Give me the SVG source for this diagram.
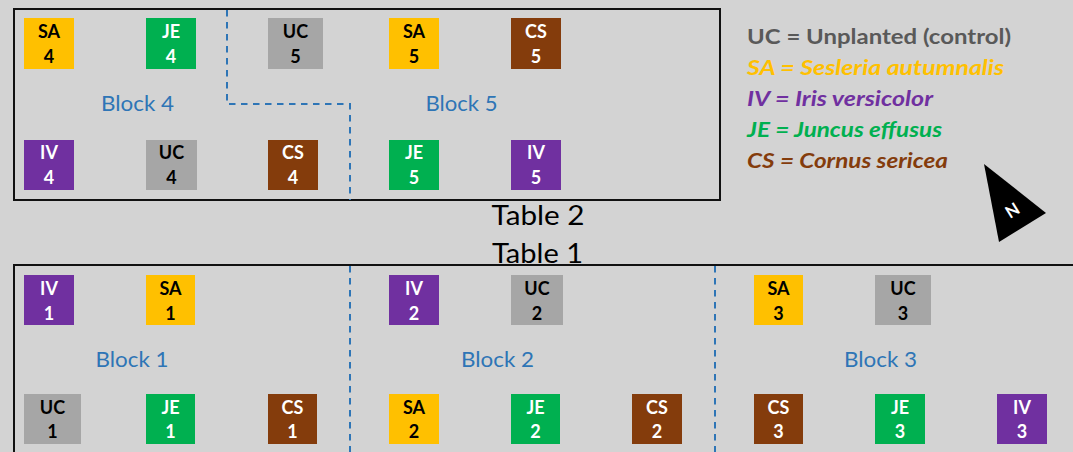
<svg xmlns="http://www.w3.org/2000/svg" width="1073" height="452" viewBox="0 0 1073 452">
<style>
  .bg{fill:#d3d3d3}
  .table{fill:none;stroke:#111;stroke-width:2}
  .div{fill:none;stroke:#2e75b6;stroke-width:2;stroke-dasharray:6.5 5.5}
  .lbl{font-family:Lato,"Open Sans",sans-serif;font-weight:bold;font-size:18px;text-anchor:middle}
  .dk{fill:#000}
  .lt{fill:#fff}
  .SA{fill:#ffc000}
  .JE{fill:#00b050}
  .UC{fill:#a6a6a6}
  .CS{fill:#843c0c}
  .IV{fill:#7030a0}
  .block{font-family:Lato,"Open Sans",sans-serif;font-size:22px;fill:#2e75b6;text-anchor:middle}
  .tname{font-family:Lato,"Open Sans",sans-serif;font-size:27px;fill:#000;text-anchor:middle}
  .leg{font-family:Lato,"Open Sans",sans-serif;font-size:21px;font-weight:bold}
</style>
<rect class="bg" x="0" y="0" width="1073" height="452"/>

<g id="table2">
  <rect class="table" x="14" y="9" width="706" height="191"/>
  <text class="tname" x="538" y="224.5" textLength="93" lengthAdjust="spacingAndGlyphs">Table 2</text>
</g>
<g id="table1">
  <rect class="table" x="14" y="265" width="1070" height="200"/>
  <text class="tname" x="537.5" y="263" textLength="91" lengthAdjust="spacingAndGlyphs">Table 1</text>
</g>

<g id="connectors">
  <path class="div" d="M227,10 V104 H350 V200"/>
  <path class="div" d="M350,266 V452"/>
  <path class="div" d="M715,266 V452"/>
</g>

<g id="block-labels">
  <text class="block" x="137.5" y="111" textLength="73" lengthAdjust="spacingAndGlyphs">Block 4</text>
  <text class="block" x="461.5" y="111" textLength="72" lengthAdjust="spacingAndGlyphs">Block 5</text>
  <text class="block" x="132" y="366.5" textLength="73" lengthAdjust="spacingAndGlyphs">Block 1</text>
  <text class="block" x="497.5" y="366.5" textLength="73" lengthAdjust="spacingAndGlyphs">Block 2</text>
  <text class="block" x="880.5" y="366.5" textLength="73" lengthAdjust="spacingAndGlyphs">Block 3</text>
</g>

<!-- Table 2 plots -->
<g id="SA4"><rect class="SA" x="24" y="18" width="50" height="51"/><text class="lbl dk" x="49" y="37.5">SA</text><text class="lbl dk" x="49" y="62.5">4</text></g>
<g id="JE4"><rect class="JE" x="146" y="18" width="50" height="51"/><text class="lbl lt" x="171" y="37.5">JE</text><text class="lbl lt" x="171" y="62.5">4</text></g>
<g id="UC5"><rect class="UC" x="268" y="18" width="55" height="51"/><text class="lbl dk" x="295.5" y="37.5">UC</text><text class="lbl dk" x="295.5" y="62.5">5</text></g>
<g id="SA5"><rect class="SA" x="389" y="18" width="50" height="51"/><text class="lbl dk" x="414" y="37.5">SA</text><text class="lbl dk" x="414" y="62.5">5</text></g>
<g id="CS5"><rect class="CS" x="511" y="18" width="50" height="51"/><text class="lbl lt" x="536" y="37.5">CS</text><text class="lbl lt" x="536" y="62.5">5</text></g>

<g id="IV4"><rect class="IV" x="24" y="140" width="50" height="50"/><text class="lbl lt" x="49" y="159">IV</text><text class="lbl lt" x="49" y="183.5">4</text></g>
<g id="UC4"><rect class="UC" x="146" y="140" width="51" height="50"/><text class="lbl dk" x="171.5" y="159">UC</text><text class="lbl dk" x="171.5" y="183.5">4</text></g>
<g id="CS4"><rect class="CS" x="268" y="140" width="50" height="50"/><text class="lbl lt" x="293" y="159">CS</text><text class="lbl lt" x="293" y="183.5">4</text></g>
<g id="JE5"><rect class="JE" x="389" y="140" width="50" height="50"/><text class="lbl lt" x="414" y="159">JE</text><text class="lbl lt" x="414" y="183.5">5</text></g>
<g id="IV5"><rect class="IV" x="511" y="140" width="50" height="50"/><text class="lbl lt" x="536" y="159">IV</text><text class="lbl lt" x="536" y="183.5">5</text></g>

<!-- Table 1 plots -->
<g id="IV1"><rect class="IV" x="24" y="275" width="50" height="50"/><text class="lbl lt" x="49" y="295">IV</text><text class="lbl lt" x="49" y="319.5">1</text></g>
<g id="SA1"><rect class="SA" x="146" y="275" width="49" height="50"/><text class="lbl dk" x="170.5" y="295">SA</text><text class="lbl dk" x="170.5" y="319.5">1</text></g>
<g id="IV2"><rect class="IV" x="389" y="275" width="50" height="50"/><text class="lbl lt" x="414" y="295">IV</text><text class="lbl lt" x="414" y="319.5">2</text></g>
<g id="UC2"><rect class="UC" x="511" y="275" width="52" height="50"/><text class="lbl dk" x="537" y="295">UC</text><text class="lbl dk" x="537" y="319.5">2</text></g>
<g id="SA3"><rect class="SA" x="754" y="275" width="49" height="50"/><text class="lbl dk" x="778.5" y="295">SA</text><text class="lbl dk" x="778.5" y="319.5">3</text></g>
<g id="UC3"><rect class="UC" x="875" y="275" width="56" height="50"/><text class="lbl dk" x="903" y="295">UC</text><text class="lbl dk" x="903" y="319.5">3</text></g>

<g id="UC1"><rect class="UC" x="24" y="394" width="57" height="50"/><text class="lbl dk" x="52.5" y="413.5">UC</text><text class="lbl dk" x="52.5" y="438">1</text></g>
<g id="JE1"><rect class="JE" x="146" y="394" width="49" height="50"/><text class="lbl lt" x="170.5" y="413.5">JE</text><text class="lbl lt" x="170.5" y="438">1</text></g>
<g id="CS1"><rect class="CS" x="268" y="394" width="49" height="50"/><text class="lbl lt" x="292.5" y="413.5">CS</text><text class="lbl lt" x="292.5" y="438">1</text></g>
<g id="SA2"><rect class="SA" x="389" y="394" width="50" height="50"/><text class="lbl dk" x="414" y="413.5">SA</text><text class="lbl dk" x="414" y="438">2</text></g>
<g id="JE2"><rect class="JE" x="511" y="394" width="49" height="50"/><text class="lbl lt" x="535.5" y="413.5">JE</text><text class="lbl lt" x="535.5" y="438">2</text></g>
<g id="CS2"><rect class="CS" x="632" y="394" width="50" height="50"/><text class="lbl lt" x="657" y="413.5">CS</text><text class="lbl lt" x="657" y="438">2</text></g>
<g id="CS3"><rect class="CS" x="754" y="394" width="49" height="50"/><text class="lbl lt" x="778.5" y="413.5">CS</text><text class="lbl lt" x="778.5" y="438">3</text></g>
<g id="JE3"><rect class="JE" x="875" y="394" width="50" height="50"/><text class="lbl lt" x="900" y="413.5">JE</text><text class="lbl lt" x="900" y="438">3</text></g>
<g id="IV3"><rect class="IV" x="997" y="394" width="50" height="50"/><text class="lbl lt" x="1022" y="413.5">IV</text><text class="lbl lt" x="1022" y="438">3</text></g>

<g id="legend">
  <text class="leg" x="747" y="44" fill="#595959" textLength="264" lengthAdjust="spacingAndGlyphs">UC = Unplanted (control)</text>
  <text class="leg" x="747" y="75" fill="#ffc000" font-style="italic" textLength="257" lengthAdjust="spacingAndGlyphs">SA = Sesleria autumnalis</text>
  <text class="leg" x="747" y="106" fill="#7030a0" font-style="italic" textLength="186" lengthAdjust="spacingAndGlyphs">IV = Iris versicolor</text>
  <text class="leg" x="747" y="137" fill="#00b050" font-style="italic" textLength="195" lengthAdjust="spacingAndGlyphs">JE = Juncus effusus</text>
  <text class="leg" x="747" y="167.5" fill="#843c0c" font-style="italic" textLength="201" lengthAdjust="spacingAndGlyphs">CS = Cornus sericea</text>
</g>

<g id="north-arrow">
  <polygon points="984,164 1046,213 999,242" fill="#000"/>
  <text x="1012" y="210" font-family="Lato,'Open Sans',sans-serif" font-weight="bold" font-size="17" fill="#fff" text-anchor="middle" dominant-baseline="central" transform="rotate(-32 1012 210)">N</text>
</g>
</svg>
